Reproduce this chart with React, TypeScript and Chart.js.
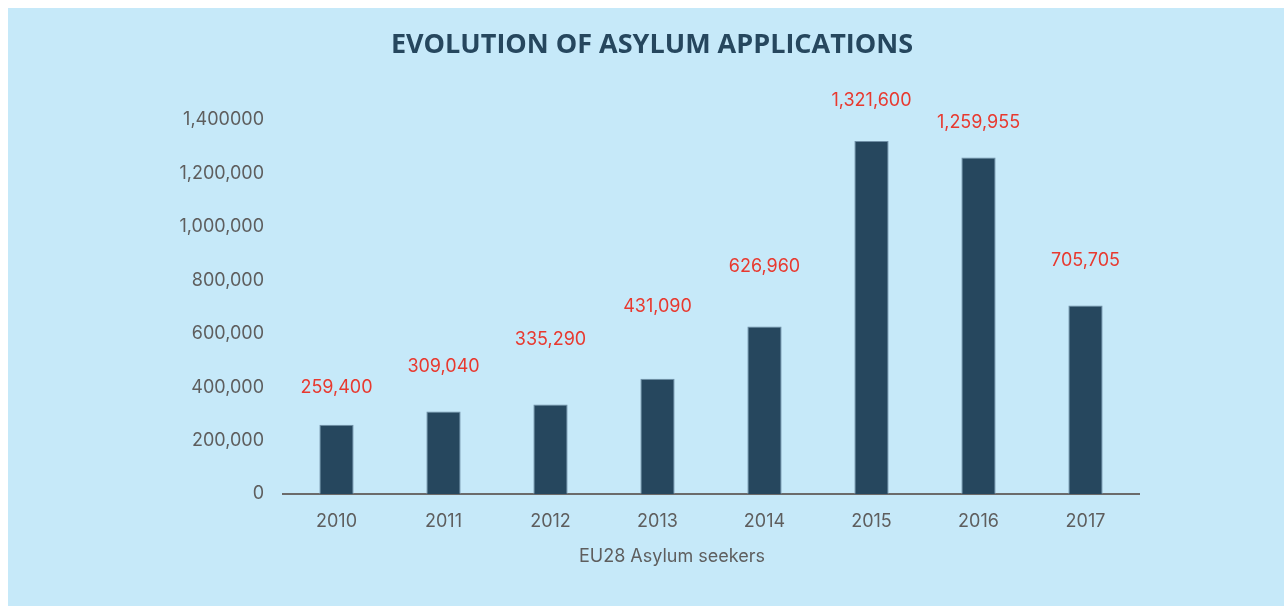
import React, { useEffect, useRef } from "react";
import { Chart, registerables } from "chart.js";

Chart.register(...registerables);

const years = ["2010", "2011", "2012", "2013", "2014", "2015", "2016", "2017"];
const applications = [259400, 309040, 335290, 431090, 626960, 1321600, 1259955, 705705];
const valueLabels = ["259,400", "309,040", "335,290", "431,090", "626,960", "1,321,600", "1,259,955", "705,705"];
const labelGaps = [37, 45, 65, 72, 60, 40, 35, 45];
const yTickLabels = ["0", "200,000", "400,000", "600,000", "800,000", "1,000,000", "1,200,000", "1,400000"];
const chartTitle = "EVOLUTION OF ASYLUM APPLICATIONS";
const xAxisTitle = "EU28 Asylum seekers";

const BG = "#c6e9f9";
const NAVY = "#26475e";
const GREY = "#5e5e5e";
const RED = "#e8392f";
const FONT = "Inter, 'Open Sans', sans-serif";

export default function App() {
  const ref = useRef<HTMLCanvasElement | null>(null);
  useEffect(() => {
    if (!ref.current) return;
    const textPlugin = {
      id: "texts",
      afterDatasetsDraw(chart: any) {
        const ctx = chart.ctx;
        const meta = chart.getDatasetMeta(0);
        ctx.save();
        ctx.fillStyle = RED;
        ctx.font = `18px ${FONT}`;
        ctx.textAlign = "center";
        ctx.textBaseline = "middle";
        meta.data.forEach((bar: any, i: number) => {
          ctx.fillText(valueLabels[i], bar.x, bar.y - labelGaps[i]);
        });
        ctx.fillStyle = NAVY;
        ctx.font = `bold 27px 'Open Sans', sans-serif`;
        ctx.fillText(chartTitle, 644, 37);
        ctx.fillStyle = GREY;
        ctx.font = `18px ${FONT}`;
        ctx.fillText(xAxisTitle, 664, 549);
        ctx.restore();
      },
    };
    const chart = new Chart(ref.current, {
      type: "bar",
      data: {
        labels: years,
        datasets: [
          {
            data: applications,
            backgroundColor: NAVY,
            borderColor: "#6f8fa6",
            borderWidth: 1,
            barPercentage: 0.64,
            categoryPercentage: 0.5,
          },
        ],
      },
      options: {
        animation: false,
        responsive: false,
        layout: { padding: { top: 112, right: 145, left: 0, bottom: 0 } },
        plugins: { legend: { display: false }, tooltip: { enabled: false } },
        scales: {
          x: {
            grid: { display: false, drawTicks: false },
            border: { display: true, color: "#6b6b6b", width: 2 },
            ticks: { color: GREY, font: { family: FONT, size: 18 }, padding: 17 },
            afterFit(scale: any) {
              scale.height = 112;
            },
          },
          y: {
            min: 0,
            max: 1400000,
            grid: { display: false, drawTicks: false },
            border: { display: false },
            ticks: {
              stepSize: 200000,
              color: GREY,
              font: { family: FONT, size: 18 },
              padding: 19,
              callback: (_v: any, i: number) => yTickLabels[i],
            },
            afterFit(scale: any) {
              scale.width = 275;
            },
          },
        },
      },
      plugins: [textPlugin],
    });
    return () => chart.destroy();
  }, []);
  return (
    <div style={{ position: "absolute", left: 8, top: 8, width: 1276, height: 598, background: BG }}>
      <canvas ref={ref} width={1276} height={598} style={{ display: "block" }} />
    </div>
  );
}
